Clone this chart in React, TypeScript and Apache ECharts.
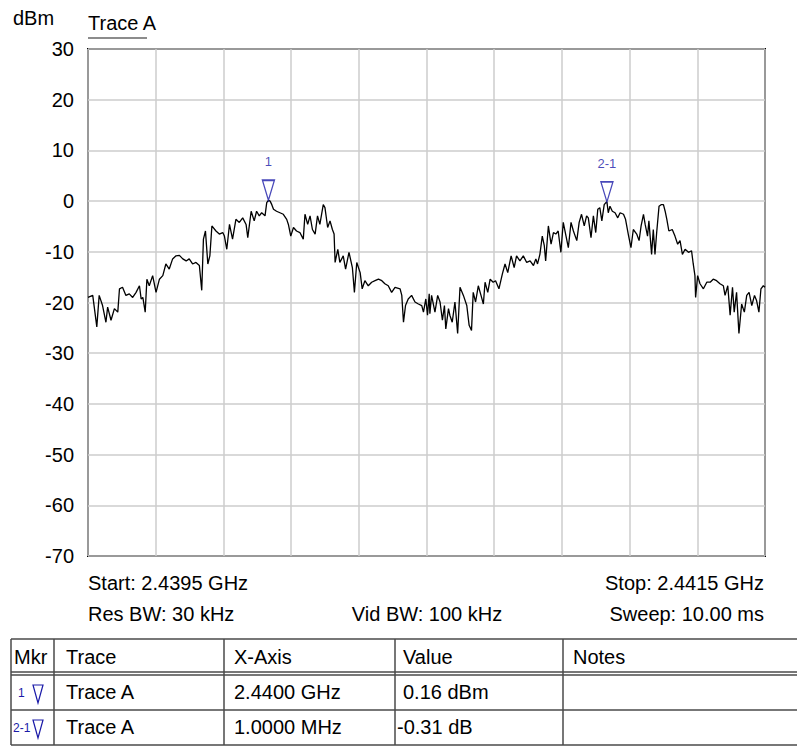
import React, { useEffect, useRef } from "react";
import * as echarts from "echarts";

// Frequency axis: offset from start frequency, in kHz (start 2.4395 GHz, stop 2.4415 GHz)
const freqOffsetKHz: number[] = [
  0, 14, 26, 33, 43, 53, 58, 68, 78, 88, 93, 102, 112, 122, 132, 142, 152, 157, 162, 169,
  174, 181, 191, 201, 211, 221, 230, 240, 250, 260, 270, 280, 290, 299, 309, 319, 329, 336, 341, 347,
  354, 360, 366, 378, 388, 398, 403, 410, 418, 427, 437, 447, 457, 467, 472, 482, 491, 498, 506,
  513, 523, 528, 533, 538, 543, 548, 557, 567, 577, 587, 592, 599, 607, 616, 626, 636, 641, 649, 656,
  663, 671, 678, 685, 695, 700, 708, 715, 722, 727, 730, 738, 744, 754, 761, 771, 781, 787, 794, 804,
  810, 818, 828, 838, 848, 858, 868, 877, 887, 897, 907, 922, 927, 932, 938, 946, 956, 966, 976, 986,
  991, 998, 1003, 1008,
  1010, 1015, 1025, 1033, 1040, 1047, 1053, 1057, 1065, 1069, 1076, 1084, 1092, 1099, 1109, 1119, 1126,
  1133, 1138, 1145, 1153, 1161, 1168, 1173, 1181, 1188, 1197, 1204, 1214, 1224, 1232, 1240, 1250, 1259,
  1266, 1276, 1286, 1296, 1306, 1316, 1323, 1328, 1335, 1342, 1348, 1352, 1360, 1368, 1375, 1382, 1389,
  1397, 1404, 1411, 1419, 1427, 1434, 1444, 1451, 1458, 1466, 1473, 1478, 1486, 1493, 1500, 1506, 1512,
  1518, 1525, 1530, 1533, 1537, 1542, 1549, 1557, 1565, 1572, 1582, 1588, 1596, 1604, 1611, 1621, 1628,
  1634, 1641, 1646, 1653, 1657, 1665, 1670, 1675, 1680, 1687, 1693, 1700, 1705, 1710, 1716, 1726, 1734,
  1742, 1749, 1756, 1764, 1774, 1783, 1788, 1793, 1795, 1801, 1808, 1818, 1828, 1838, 1847, 1857, 1867,
  1877, 1882, 1890, 1897, 1904, 1909, 1916, 1923, 1931, 1939, 1946, 1953, 1961, 1969, 1975, 1982, 1988,
  1995, 2000,
];

// Trace A level, dBm
const traceA: number[] = [
  -19.0, -18.6, -24.8, -18.6, -20.6, -23.9, -20.9, -23.5, -21.2, -21.9, -17.3, -17.0, -18.6, -18.3, -19.0, -18.0, -16.7, -19.3, -19.0, -21.9,
  -15.4, -16.7, -14.7, -18.0, -15.4, -14.7, -12.4, -13.4, -11.4, -10.8, -10.7, -11.4, -11.8, -11.4, -12.4, -12.1, -12.7, -17.6, -7.5, -5.9,
  -12.4, -10.8, -4.9, -5.9, -6.5, -6.2, -6.9, -9.5, -4.6, -7.5, -3.6, -4.2, -3.3, -4.6, -7.2, -2.0, -3.9, -2.0, -2.9,
  -2.3, -2.9, -0.3, 0.16, 0.0, -0.7, -1.6, -2.0, -2.3, -2.6, -3.6, -4.6, -6.9, -5.2, -5.9, -6.2, -7.5, -2.6, -4.6, -2.9,
  -5.6, -6.5, -2.9, -4.6, -0.7, -1.3, -5.2, -3.9, -5.6, -6.5, -12.1, -9.5, -12.1, -10.8, -13.4, -10.1, -13.1, -18.0, -12.1, -14.1,
  -17.3, -15.7, -16.7, -16.0, -15.7, -15.4, -15.7, -16.3, -16.7, -18.0, -17.0, -17.3, -18.6, -23.9, -20.6, -19.3, -18.6, -19.9, -20.3, -20.6,
  -21.9, -19.3, -22.5, -18.3,
  -22.2, -18.6, -21.9, -18.6, -19.9, -23.5, -20.6, -25.2, -21.2, -22.5, -23.9, -19.9, -26.1, -17.0, -18.6, -20.6, -24.5,
  -25.5, -18.0, -19.9, -16.7, -18.6, -20.3, -16.0, -18.0, -15.4, -16.0, -15.7, -17.3, -14.4, -12.4, -14.1, -10.8, -13.1,
  -10.8, -11.8, -10.8, -12.1, -11.8, -12.7, -11.4, -12.4, -10.5, -6.9, -8.8, -11.8, -4.9, -8.5, -6.2, -6.5, -5.9,
  -10.1, -4.2, -6.5, -9.2, -4.2, -5.9, -7.8, -4.2, -2.6, -4.9, -2.9, -3.3, -7.2, -2.9, -6.2, -1.6, -1.3,
  -3.9, -0.7, -0.3, -0.15, -2.3, -1.0, -2.0, -2.3, -3.3, -2.3, -2.6, -3.6, -6.5, -9.2, -5.6, -6.5, -7.8,
  -4.9, -2.6, -4.6, -6.9, -3.9, -10.5, -5.6, -10.5, -6.2, -1.0, -0.7, -0.7, -2.0, -3.6, -5.9, -5.6, -6.9,
  -8.5, -7.8, -10.5, -9.5, -10.1, -9.8, -12.4, -14.7, -19.0, -14.7, -16.3, -17.3, -16.0, -16.0, -15.4, -15.7, -16.3,
  -16.7, -18.6, -16.7, -22.5, -17.0, -21.9, -18.0, -26.1, -20.3, -21.9, -18.6, -18.0, -20.6, -18.6, -19.6, -21.9, -17.3,
  -16.7, -17.0,
];

// Markers
const markerNames: string[] = ["1", "2-1"];
const markerFreqKHz: number[] = [533, 1533];
const markerLevel: number[] = [0.16, -0.15];

// Y axis range (dBm)
const yMin = -70;
const yMax = 30;
const yStep = 10;

// Table
const tableHeader: string[] = ["Mkr", "Trace", "X-Axis", "Value", "Notes"];
const tableRows: string[][] = [
  ["1", "Trace A", "2.4400 GHz", "0.16 dBm", ""],
  ["2-1", "Trace A", "1.0000 MHz", "-0.31 dB", ""],
];

const infoStart = "Start: 2.4395 GHz";
const infoStop = "Stop: 2.4415 GHz";
const infoRes = "Res BW: 30 kHz";
const infoVid = "Vid BW: 100 kHz";
const infoSweep = "Sweep: 10.00 ms";

const FONT = "'Liberation Sans', Arial, Helvetica, sans-serif";
const BLUE = "#1a1aa8";
const LINE = "#4a4a4a";

export default function App() {
  const ref = useRef<HTMLDivElement>(null);

  useEffect(() => {
    if (!ref.current) return;
    const chart = echarts.init(ref.current, undefined, { renderer: "svg" });

    const traceData = freqOffsetKHz.map((f, i) => [f, traceA[i]]);
    const markerData = markerNames.map((n, i) => ({
      name: n,
      value: [markerFreqKHz[i], markerLevel[i]],
    }));

    const txt = (text: string, x: number, y: number, opts: any = {}) => ({
      type: "text",
      x,
      y,
      silent: true,
      style: {
        text,
        fill: opts.fill || "#000",
        font: `${opts.size || 20}px ${FONT}`,
        textAlign: opts.align || "left",
        textVerticalAlign: "middle",
      },
      z: 10,
    });
    const hline = (x1: number, x2: number, y: number) => ({
      type: "line",
      silent: true,
      shape: { x1, y1: y, x2, y2: y },
      style: { stroke: LINE, lineWidth: 1.5 },
      z: 10,
    });
    const vline = (x: number, y1: number, y2: number) => ({
      type: "line",
      silent: true,
      shape: { x1: x, y1, x2: x, y2 },
      style: { stroke: LINE, lineWidth: 1.5 },
      z: 10,
    });

    // table geometry
    const colX = [11, 54, 224, 395, 563];
    const textX = [14, 66, 234, 403, 573];
    const rowTop = 639;
    const rowY = [657, 692, 727];
    const tableGraphics: any[] = [
      hline(colX[0], 797, rowTop),
      hline(colX[0], 797, 672),
      hline(colX[0], 797, 675),
      hline(colX[0], 797, 710),
      hline(colX[0], 797, 745),
      ...colX.map((x) => vline(x, rowTop, 745)),
    ];
    tableHeader.forEach((h, i) => tableGraphics.push(txt(h, textX[i], rowY[0])));
    tableRows.forEach((row, r) => {
      const y = rowY[r + 1];
      tableGraphics.push(
        txt(row[0], r === 0 ? 18 : 13, y + 1, { size: 12, fill: BLUE })
      );
      tableGraphics.push({
        type: "polygon",
        silent: true,
        shape: {
          points: [
            [33, y - 7],
            [43, y - 7],
            [38, y + 11],
          ],
        },
        style: { fill: "none", stroke: BLUE, lineWidth: 1.2 },
        z: 10,
      });
      for (let c = 1; c < row.length; c++) {
        if (!row[c]) continue;
        let x = textX[c];
        if (c === 3) x = row[c].startsWith("-") ? 397 : 403;
        tableGraphics.push(txt(row[c], x, y));
      }
    });

    const option: any = {
      animation: false,
      backgroundColor: "#fff",
      textStyle: { fontFamily: FONT },
      grid: {
        left: 88,
        top: 49,
        width: 677,
        height: 507,
        show: true,
        borderColor: "#000",
        borderWidth: 2,
        backgroundColor: "transparent",
        containLabel: false,
      },
      xAxis: {
        type: "value",
        min: 0,
        max: 2000,
        interval: 200,
        axisLine: { show: false },
        axisTick: { show: false },
        axisLabel: { show: false },
        splitLine: { show: true, lineStyle: { color: "#cccccc", width: 1.5 } },
      },
      yAxis: {
        type: "value",
        min: yMin,
        max: yMax,
        interval: yStep,
        axisLine: { show: false },
        axisTick: { show: false },
        axisLabel: { color: "#000", fontSize: 20, margin: 14, fontFamily: FONT },
        splitLine: { show: true, lineStyle: { color: "#cccccc", width: 1.5 } },
      },
      series: [
        {
          type: "line",
          name: "Trace A",
          data: traceData,
          showSymbol: false,
          symbol: "none",
          lineStyle: { color: "#000", width: 1.3 },
          z: 3,
          silent: true,
        },
        {
          type: "scatter",
          name: "Markers",
          data: markerData,
          symbol: "path://M0,0L12,0L6,20Z",
          symbolSize: [12, 20],
          symbolOffset: [0, "-50%"],
          itemStyle: { color: "rgba(0,0,0,0)", borderColor: BLUE, borderWidth: 1.5 },
          label: {
            show: true,
            position: "top",
            distance: 11,
            formatter: (p: any) => p.name,
            color: BLUE,
            fontSize: 13,
            fontFamily: FONT,
          },
          z: 5,
          silent: true,
        },
      ],
      graphic: [
        txt("dBm", 13, 18),
        txt("Trace A", 88, 23),
        {
          type: "line",
          silent: true,
          shape: { x1: 88, y1: 38, x2: 147, y2: 38 },
          style: { stroke: "#8c8c8c", lineWidth: 2 },
        },
        txt(infoStart, 88, 583),
        txt(infoStop, 764, 583, { align: "right" }),
        txt(infoRes, 88, 614),
        txt(infoVid, 427, 614, { align: "center" }),
        txt(infoSweep, 764, 614, { align: "right" }),
        ...tableGraphics,
      ],
    };

    chart.setOption(option);
    return () => chart.dispose();
  }, []);

  return (
    <div
      ref={ref}
      style={{ position: "absolute", left: 0, top: 0, width: 797, height: 746 }}
    />
  );
}
